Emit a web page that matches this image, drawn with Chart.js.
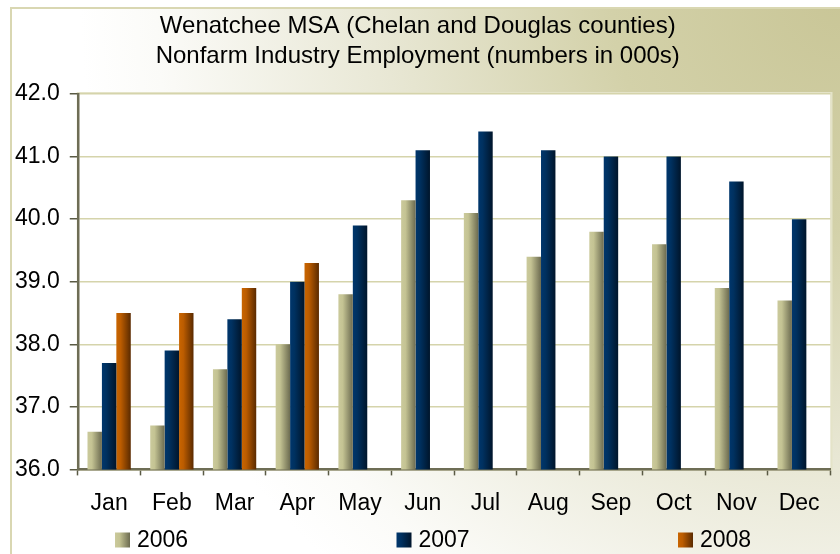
<!DOCTYPE html>
<html><head><meta charset="utf-8">
<script src="https://cdn.jsdelivr.net/npm/chart.js@4/dist/chart.umd.min.js"></script>
<style>html,body{margin:0;padding:0;background:#fff}#wrap{width:840px;height:554px;position:relative}canvas{display:block}</style>
</head><body><div id="wrap"><canvas id="c" width="840" height="554"></canvas></div>
<script>
// ---- data ----
const months = ['Jan','Feb','Mar','Apr','May','Jun','Jul','Aug','Sep','Oct','Nov','Dec'];
const values2006 = [36.6, 36.7, 37.6, 38.0, 38.8, 40.3, 40.1, 39.4, 39.8, 39.6, 38.9, 38.7];
const values2007 = [37.7, 37.9, 38.4, 39.0, 39.9, 41.1, 41.4, 41.1, 41.0, 41.0, 40.6, 40.0];
const values2008 = [38.5, 38.5, 38.9, 39.3];
const seriesLabels = ['2006', '2007', '2008'];
const titleLines = ['Wenatchee MSA (Chelan and Douglas counties)', 'Nonfarm Industry Employment (numbers in 000s)'];
const yMin = 36, yMax = 42, yStep = 1;

// ---- styles ----
const gradStops = [
  ['#cbca9c', '#c4c393', '#6c6b50'],
  ['#00366c', '#003160', '#00152b'],
  ['#c96500', '#bb5c00', '#5a2a00']
];
const FONT = '"Liberation Sans", Arial, sans-serif';

function barGradient(ctx, l, r, stops) {
  const g = ctx.createLinearGradient(l, 0, r, 0);
  g.addColorStop(0, stops[0]);
  g.addColorStop(0.3, stops[1]);
  g.addColorStop(1, stops[2]);
  return g;
}

const bgPlugin = {
  id: 'bg',
  beforeDraw(chart) {
    const {ctx, width, height, chartArea: a} = chart;
    ctx.save();
    ctx.fillStyle = '#ffffff';
    ctx.fillRect(0, 0, width, height);
    const rg = ctx.createRadialGradient(width, 0, 0, width, 0, 760);
    rg.addColorStop(0, '#c9c697');
    rg.addColorStop(0.3, '#d3d1a9');
    rg.addColorStop(0.6, '#e8e7d4');
    rg.addColorStop(0.9, '#fbfbf8');
    rg.addColorStop(1, '#ffffff');
    ctx.fillStyle = rg;
    ctx.fillRect(10, 7, width - 10, height - 7);
    ctx.strokeStyle = '#d9d7b2';
    ctx.lineWidth = 2;
    ctx.beginPath();
    ctx.moveTo(11, height + 5);
    ctx.lineTo(11, 8);
    ctx.lineTo(width + 5, 8);
    ctx.stroke();
    // plot area
    ctx.fillStyle = '#ffffff';
    ctx.fillRect(a.left, a.top, a.right - a.left, a.bottom - a.top);
    ctx.strokeStyle = '#e4e3c8';
    ctx.lineWidth = 2;
    ctx.strokeRect(a.left, a.top - 1, a.right - a.left + 1, a.bottom - a.top + 1);
    ctx.restore();
  }
};

const gradPlugin = {
  id: 'grad',
  beforeDatasetsDraw(chart) {
    const ctx = chart.ctx;
    chart.data.datasets.forEach((ds, i) => {
      const meta = chart.getDatasetMeta(i);
      meta.data.forEach(el => {
        const l = el.x - el.width / 2, r = el.x + el.width / 2;
        el.options.backgroundColor = barGradient(ctx, l, r, gradStops[i]);
      });
    });
  }
};

const legendPlugin = {
  id: 'customLegend',
  afterDraw(chart) {
    const ctx = chart.ctx;
    const startX = 115, gap = 281.5, cy = 540, box = 15;
    ctx.save();
    ctx.font = '23px ' + FONT;
    ctx.textBaseline = 'middle';
    ctx.fillStyle = '#000';
    chart.data.datasets.forEach((ds, i) => {
      const x = startX + i * gap;
      ctx.fillStyle = barGradient(ctx, x, x + box, gradStops[i]);
      ctx.fillRect(x, cy - box / 2, box, box);
      ctx.fillStyle = '#000';
      ctx.fillText(ds.label, x + 22, cy + 1);
    });
    ctx.restore();
  }
};

const seriesValues = [values2006, values2007, values2008];
const datasets = seriesLabels.map((lab, i) => ({
  label: lab,
  data: seriesValues[i],
  backgroundColor: () => gradStops[i][1],
  borderWidth: 0,
  categoryPercentage: 0.69,
  barPercentage: 1.0
}));

new Chart(document.getElementById('c'), {
  type: 'bar',
  data: { labels: months, datasets },
  plugins: [bgPlugin, gradPlugin, legendPlugin],
  options: {
    responsive: false,
    devicePixelRatio: 1,
    animation: false,
    layout: { padding: { left: 5, right: 9.5, top: 0, bottom: 23 } },
    plugins: {
      legend: { display: false },
      tooltip: { enabled: false },
      title: {
        display: true,
        text: titleLines,
        color: '#000',
        font: { family: FONT, size: 24, weight: 'normal', lineHeight: '30px' },
        padding: { top: 11, bottom: 23 }
      }
    },
    scales: {
      x: {
        grid: { display: true, drawOnChartArea: false, offset: true, tickLength: 6, tickColor: '#5a5a44', tickWidth: 1.5 },
        border: { display: true, color: '#6e6d55', width: 2.5 },
        ticks: { color: '#000', font: { family: FONT, size: 23 }, padding: 14, maxRotation: 0, autoSkip: false }
      },
      y: {
        min: yMin, max: yMax,
        grid: { color: '#d5d4ab', lineWidth: 1.5, tickLength: 8, tickColor: '#5a5a44', tickWidth: 1.5 },
        border: { display: true, color: '#6e6d55', width: 2.5 },
        ticks: { stepSize: yStep, color: '#000', font: { family: FONT, size: 23 }, padding: 10,
                 callback: v => Number(v).toFixed(1) }
      }
    }
  }
});
</script>
</body></html>
